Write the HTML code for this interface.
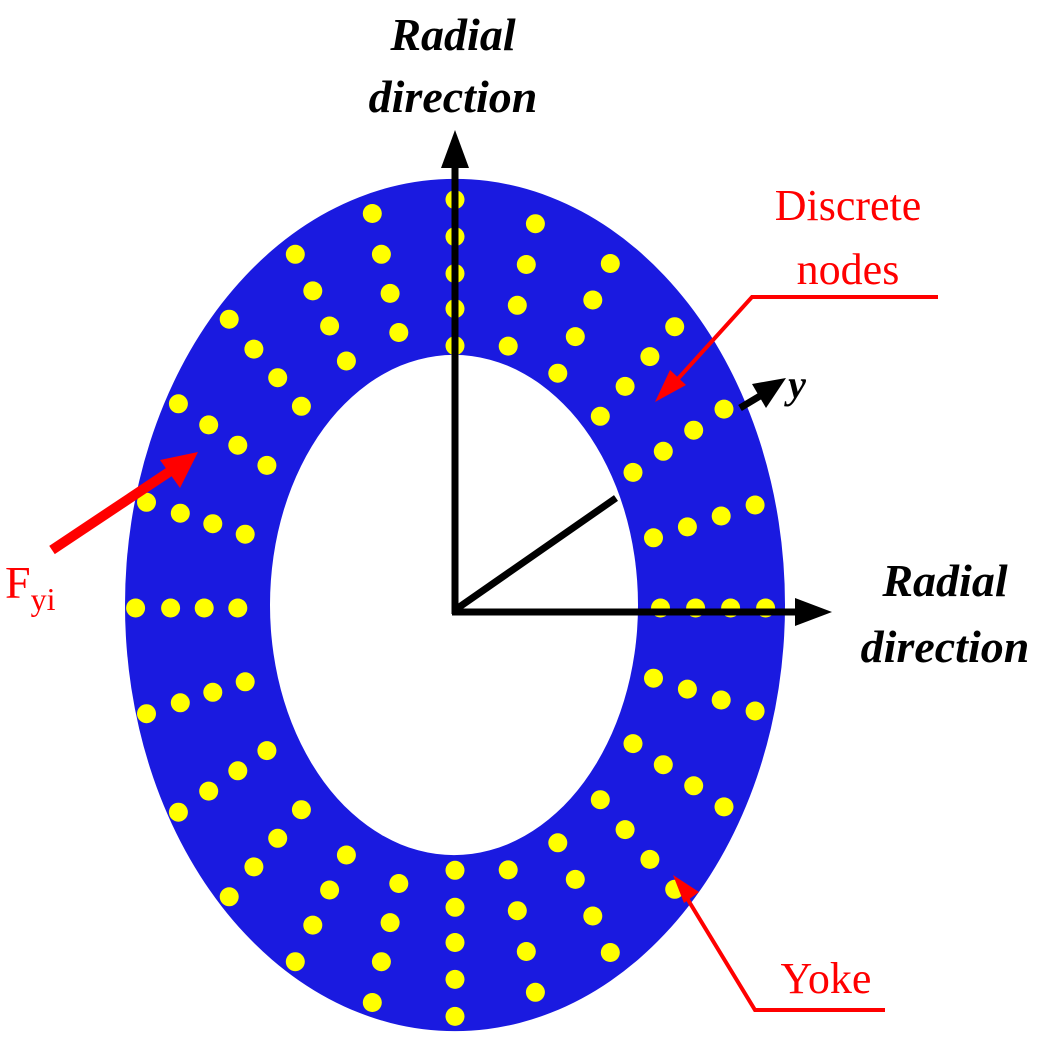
<!DOCTYPE html>
<html><head><meta charset="utf-8"><style>
html,body{margin:0;padding:0;background:#fff;}
svg{display:block;}
text{font-family:"Liberation Serif",serif;}
</style></head><body>
<svg id="s" width="1045" height="1047" viewBox="0 0 1045 1047" xmlns="http://www.w3.org/2000/svg">
<path fill="#1a1ae0" fill-rule="evenodd" d="M125,605 a330,426 0 1,0 660,0 a330,426 0 1,0 -660,0 Z M270,605 a184,250 0 1,0 368,0 a184,250 0 1,0 -368,0 Z"/>
<g id="dots" fill="#ffff00"></g>
<g stroke="#000" stroke-width="7" fill="none">
<line x1="455" y1="614" x2="455" y2="160"/>
<line x1="452" y1="612" x2="800" y2="612"/>
<line x1="455" y1="610" x2="616" y2="498"/>
<line x1="740" y1="408" x2="765" y2="393"/>
</g>
<polygon points="455,130 441,168 469,168" fill="#000"/>
<polygon points="832,612 795,598 795,626" fill="#000"/>
<polygon points="786,378 752,384 766,408" fill="#000"/>
<g stroke="#ff0000" stroke-width="4" fill="none">
<polyline points="938,297 752,297 666,392"/>
<polyline points="885,1010 755,1010 682,890"/>
</g>
<polygon points="655,402 670,370 686,385" fill="#ff0000"/>
<polygon points="673,875 699,892 684,903" fill="#ff0000"/>
<line x1="52" y1="550" x2="175" y2="468" stroke="#ff0000" stroke-width="10"/>
<polygon points="198,452 160,460 180,488" fill="#ff0000"/>
<g font-style="italic" font-weight="bold" font-size="46" fill="#000" text-anchor="middle">
<text x="453" y="50">Radial</text>
<text x="453" y="112">direction</text>
<text x="945" y="596">Radial</text>
<text x="945" y="662">direction</text>
<text x="797" y="398" text-anchor="middle" font-size="40">y</text>
</g>
<g font-size="44" fill="#ff0000" text-anchor="middle">
<text x="848" y="220">Discrete</text>
<text x="848" y="284">nodes</text>
<text x="826" y="993">Yoke</text>
<text x="5" y="598" text-anchor="start" font-size="46">F<tspan font-size="32" dy="12">yi</tspan></text>
</g>
</svg>
<script>
(function(){
var g=document.getElementById('dots'),cx=455,cy=608,ns='http://www.w3.org/2000/svg';
for(var k=0;k<24;k++){
 var th=k*15*Math.PI/180,c=Math.cos(th),s=Math.sin(th);
 var vert=(k==6||k==18);
 var fr=vert?[0.07,0.28,0.48,0.69,0.9]:(c>0.2?[0.12,0.36,0.6,0.84]:[0.2,0.43,0.66,0.9]);
 for(var i=0;i<fr.length;i++){
  var rx=184+146*fr[i]+4,ry=250+176*fr[i];
  var e=document.createElementNS(ns,'circle');
  e.setAttribute('cx',(cx+rx*c).toFixed(1));
  e.setAttribute('cy',(cy+ry*s).toFixed(1));
  e.setAttribute('r','9.5');
  g.appendChild(e);
 }
}
})();
</script>
</body></html>
